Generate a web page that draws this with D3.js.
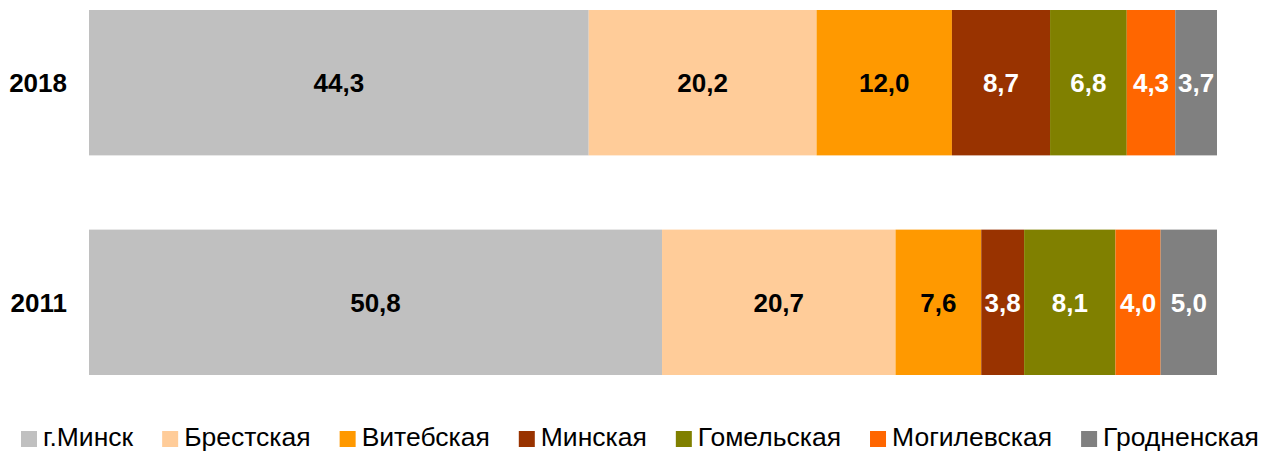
<!DOCTYPE html>
<html>
<head>
<meta charset="utf-8">
<script src="https://cdn.jsdelivr.net/npm/d3@7"></script>
<style>
    body { margin: 0; background: #fff; }
    svg { display: block; font-family: "Liberation Sans", Arial, sans-serif; }
</style>
</head>
<body>
<svg id="chart"></svg>
<script>
// Data
const years = ['2018', '2011'];
const regions = ['г.Минск', 'Брестская', 'Витебская', 'Минская', 'Гомельская', 'Могилевская', 'Гродненская'];
const values2018 = [44.3, 20.2, 12.0, 8.7, 6.8, 4.3, 3.7];
const values2011 = [50.8, 20.7, 7.6, 3.8, 8.1, 4.0, 5.0];
const colors = ['#c0c0c0', '#ffcc99', '#ff9900', '#993300', '#808000', '#ff6600', '#808080'];
const labelColors = ['#000', '#000', '#000', '#fff', '#fff', '#fff', '#fff'];

const width = 1266;
const height = 452;
const margin = { top: 10, right: 49, bottom: 77, left: 89 };

const svg = d3.select('#chart')
    .attr('width', width)
    .attr('height', height);

const x = d3.scaleLinear()
    .domain([0, 100])
    .range([margin.left, width - margin.right]);

const y = d3.scaleBand()
    .domain(years)
    .range([margin.top, height - margin.bottom])
    .paddingInner(0.338)
    .paddingOuter(0);

// Build stacked rows
const rows = years.map((yr, i) => {
    const vals = i === 0 ? values2018 : values2011;
    let acc = 0;
    return vals.map((v, j) => {
        const seg = { year: yr, idx: j, value: v, x0: acc, x1: acc + v };
        acc += v;
        return seg;
    });
});

const segs = rows.flat();

// Bars
svg.append('g')
    .selectAll('rect')
    .data(segs)
    .enter().append('rect')
    .attr('x', d => x(d.x0))
    .attr('y', d => y(d.year))
    .attr('width', d => x(d.x1) - x(d.x0))
    .attr('height', y.bandwidth())
    .attr('fill', d => colors[d.idx]);

// Value labels
svg.append('g')
    .selectAll('text')
    .data(segs)
    .enter().append('text')
    .attr('x', d => (x(d.x0) + x(d.x1)) / 2)
    .attr('y', d => y(d.year) + y.bandwidth() / 2)
    .attr('dy', '0.36em')
    .attr('text-anchor', 'middle')
    .style('font-size', '26px')
    .style('font-weight', 'bold')
    .style('fill', d => labelColors[d.idx])
    .text(d => d.value.toFixed(1).replace('.', ','));

// Year labels
svg.append('g')
    .selectAll('text')
    .data(years)
    .enter().append('text')
    .attr('x', margin.left - 22)
    .attr('y', d => y(d) + y.bandwidth() / 2)
    .attr('dy', '0.36em')
    .attr('text-anchor', 'end')
    .style('font-size', '26px')
    .style('font-weight', 'bold')
    .text(d => d);

// Legend
const legend = svg.append('g').attr('class', 'legend');
const legendY = 431;
const sq = 16;
let lx = 21;
regions.forEach((name, i) => {
    legend.append('rect')
        .attr('x', lx)
        .attr('y', legendY)
        .attr('width', sq)
        .attr('height', sq)
        .attr('fill', colors[i]);
    const t = legend.append('text')
        .attr('x', lx + sq + 6)
        .attr('y', legendY + 15)
        .style('font-size', '26.5px')
        .text(name);
    const w = t.node().getComputedTextLength();
    lx += sq + 6 + w + 29;
});
</script>
</body>
</html>
